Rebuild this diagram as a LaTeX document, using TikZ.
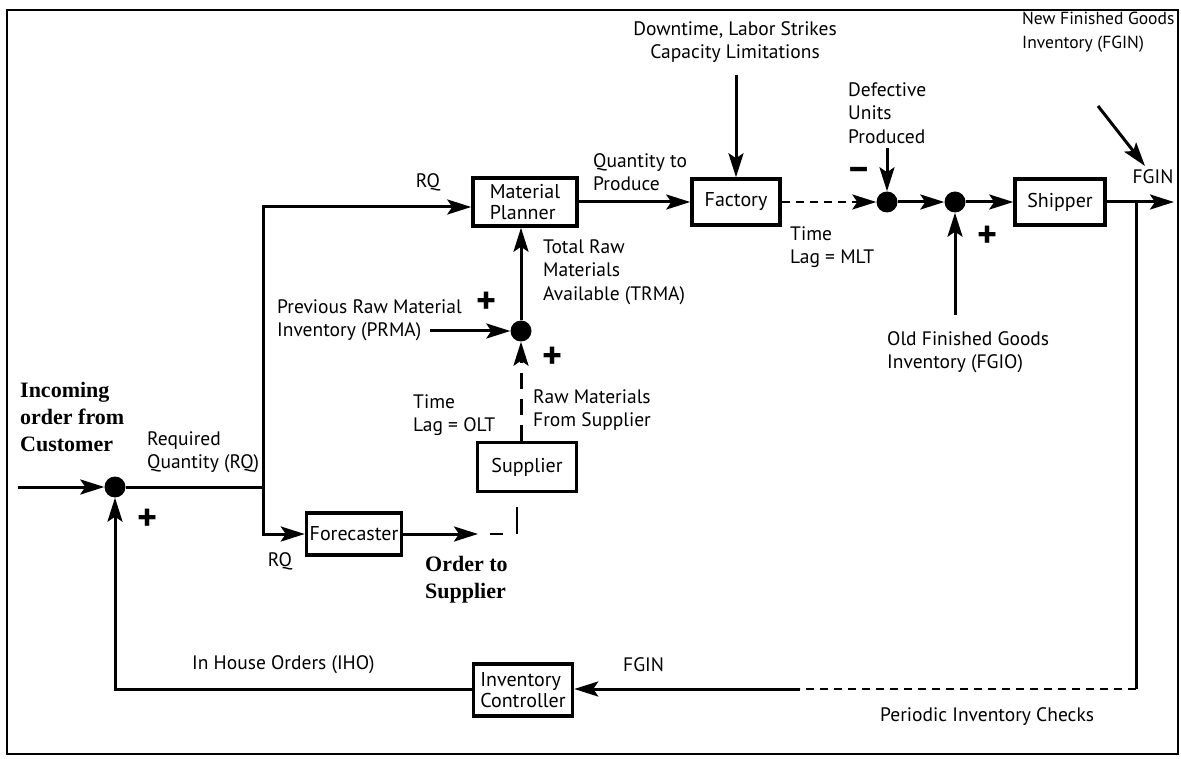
\documentclass[tikz,border=0pt]{standalone}
\usepackage{fontspec}
\setmainfont{PT Sans}
\newfontfamily\bigserif{Liberation Serif}
\usetikzlibrary{arrows.meta}
\tikzset{
  lbl/.style={font=\fontsize{19.5}{23.5}\selectfont, inner sep=0pt, align=left},
  big/.style={font=\bigserif\bfseries\fontsize{22}{27}\selectfont, inner sep=0pt, align=left},
  blk/.style={draw, line width=3.5pt, font=\fontsize{20}{21.5}\selectfont, inner sep=0pt, align=left},
  tip/.style={-{Stealth[length=24pt,width=15pt,inset=5pt]}},
  flow/.style={line width=3pt, tip},
  solidline/.style={line width=3pt},
  dsh/.style={line width=2.5pt, dash pattern=on 8pt off 6pt},
  junc/.style={circle, fill, inner sep=0pt, minimum size=21pt},
  sign/.style={font=\bfseries\fontsize{38}{38}\selectfont, inner sep=0pt}
}
\begin{document}
\begin{tikzpicture}[x=1pt,y=-1pt]
\useasboundingbox (0,0) rectangle (1181,759);
\draw[line width=1.2pt] (7,10) rectangle (1178,754);

% blocks
\node[blk, minimum width=104pt, minimum height=48pt] (mp) at (525,202) {Material\\Planner};
\node[blk, minimum width=88pt, minimum height=46pt] (fa) at (736,202) {Factory};
\node[blk, minimum width=90pt, minimum height=46pt] (sh) at (1060,202) {Shipper};
\node[blk, minimum width=99pt, minimum height=49pt] (sup) at (527,467) {Supplier};
\node[blk, minimum width=95pt, minimum height=42pt] (fc) at (354,534) {Forecaster};
\node[blk, minimum width=99pt, minimum height=52pt] (ic) at (523,690) {Inventory\\Controller};

% junctions
\node[junc] (j0) at (115,487) {};
\node[junc] (j1) at (521,331) {};
\node[junc] (jd) at (887,202) {};
\node[junc] (jo) at (955,202) {};

% coordinates
\coordinate (in) at (18,487);
\coordinate (split) at (263,487);
\coordinate (splitT) at (263,207);
\coordinate (splitB) at (263,534);
\coordinate (ot) at (478,534);
\coordinate (oc) at (517,534);
\coordinate (pr) at (430,331);
\coordinate (dt) at (736,75);
\coordinate (du) at (887,148);
\coordinate (fo) at (955,315);
\coordinate (fgout) at (1174,202);
\coordinate (tap) at (1136,202);
\coordinate (tapB) at (1136,689);
\coordinate (pc) at (800,689);
\coordinate (ihc) at (115,689);
\coordinate (nf1) at (1098,106);
\coordinate (nf2) at (1145,166);

% connectors
\draw[flow] (in) -- (j0);
\draw[solidline] (j0) -- (split);
\draw[flow] (split) -- (splitT) -- (mp.west |- splitT);
\draw[flow] (split) -- (splitB) -- (fc.west |- splitB);
\draw[flow] (fc.east |- ot) -- (ot);
\draw[line width=2.5pt, dash pattern=on 13pt off 14pt on 27pt off 30pt, dash phase=72pt] (ot) -- (oc) -- (sup.south -| oc);
\draw[line width=3pt, dash pattern=on 16pt off 10pt, tip] (sup.north -| j1) -- (j1);
\draw[flow] (pr) -- (j1);
\draw[flow] (j1) -- (mp.south -| j1);
\draw[flow] (mp.east) -- (fa.west);
\draw[flow] (dt) -- (fa.north -| dt);
\draw[dsh, tip] (fa.east) -- (jd);
\draw[flow] (du) -- (jd);
\draw[flow] (jd) -- (jo);
\draw[flow] (jo) -- (sh.west);
\draw[flow] (fo) -- (jo);
\draw[flow] (sh.east) -- (fgout);
\draw[flow] (nf1) -- (nf2);
\draw[solidline] (tap) -- (tapB);
\draw[dsh] (tapB) -- (pc);
\draw[flow] (pc) -- (ic.east |- pc);
\draw[flow] (ic.west |- ihc) -- (ihc) -- (j0);

% labels
\node[lbl, align=center] (dl) at (735,42) {Downtime, Labor Strikes\\Capacity Limitations};
\node[lbl, anchor=west, font=\fontsize{17.5}{23.5}\selectfont] (nfg) at (1022,32) {New Finished Goods\\Inventory (FGIN)};
\node[lbl, anchor=west] (def) at (848,113) {Defective\\Units\\Produced};
\node[lbl, anchor=west] (qp) at (593,172) {Quantity to\\Produce};
\node[lbl] (rqt) at (428,182) {RQ};
\node[lbl, anchor=west] (trma) at (543,272) {Total Raw\\Materials\\Available (TRMA)};
\node[lbl, anchor=west] (prma) at (277,320) {Previous Raw Material\\Inventory (PRMA)};
\node[lbl, anchor=west] (mlt) at (790,247) {Time\\Lag = MLT};
\node[lbl, anchor=west] (fgio) at (887,352) {Old Finished Goods\\Inventory (FGIO)};
\node[lbl] (fgin1) at (1153,177) {FGIN};
\node[big, anchor=west] (inc) at (20,417) {Incoming\\order from\\Customer};
\node[lbl, anchor=west] (req) at (147,452) {Required\\Quantity (RQ)};
\node[lbl, anchor=west] (olt) at (413,415) {Time\\Lag = OLT};
\node[lbl, anchor=west] (rmfs) at (533,410) {Raw Materials\\From Supplier};
\node[lbl] (rqb) at (280,561) {RQ};
\node[big, anchor=west] (ots) at (425,580) {Order to\\Supplier};
\node[lbl, anchor=west] (iho) at (192,665) {In House Orders (IHO)};
\node[lbl, anchor=west] (fgin2) at (623,665) {FGIN};
\node[lbl, anchor=west] (pic) at (880,717) {Periodic Inventory Checks};

% signs
\node[sign] (p1) at (487,303) {+};
\node[sign] (p2) at (553,358) {+};
\node[sign] (p3) at (988,237) {+};
\node[sign] (p4) at (148,520) {+};
\node[sign] (m1) at (859,174) {–};
\end{tikzpicture}
\end{document}
